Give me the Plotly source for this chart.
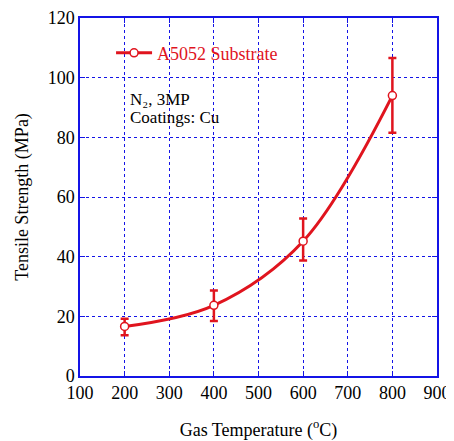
import plotly.graph_objects as go

temps = [200, 400, 600, 800]
strength = [16.6, 23.7, 45.2, 94.0]
err_up = [2.6, 5.0, 7.6, 12.6]
err_down = [2.9, 5.3, 6.5, 12.5]
x_ticks = [100, 200, 300, 400, 500, 600, 700, 800, 900]
y_ticks = [0, 20, 40, 60, 80, 100, 120]

red = "#e0141e"
blue = "#1414e6"
font = "Liberation Serif"

fig = go.Figure()
fig.add_trace(go.Scatter(
    x=temps, y=strength, mode="lines+markers", name="A5052 Substrate",
    line=dict(color=red, width=3, shape="spline", smoothing=1.0),
    marker=dict(symbol="circle", size=8, color="white", line=dict(color=red, width=1.5)),
    error_y=dict(type="data", array=err_up, arrayminus=err_down, color=red, thickness=2.5, width=4),
))

fig.add_annotation(x=0.135, y=0.772, xref="paper", yref="paper", xanchor="left", yanchor="middle",
                   text="N₂, 3MP", showarrow=False,
                   font=dict(family=font, size=17, color="black"))
fig.add_annotation(x=0.135, y=0.722, xref="paper", yref="paper", xanchor="left", yanchor="middle",
                   text="Coatings: Cu", showarrow=False,
                   font=dict(family=font, size=17, color="black"))

axis_common = dict(
    showline=True, linecolor=blue, linewidth=1.5, mirror="allticks",
    ticks="inside", ticklen=5, tickcolor=blue, tickwidth=1,
    showgrid=True, gridcolor=blue, griddash="dot", gridwidth=1,
    zeroline=False, automargin=False,
    tickfont=dict(family=font, size=18, color="black"),
)

# the page body has an 8px margin, so the figure is sized to fit the window
fig.update_layout(
    width=446, height=433,
    margin=dict(l=72, r=17, t=10, b=65),
    paper_bgcolor="white", plot_bgcolor="white",
    showlegend=True,
    legend=dict(x=0.087, y=0.902, xanchor="left", yanchor="middle",
                bgcolor="rgba(0,0,0,0)", font=dict(family=font, size=18, color=red),
                itemwidth=36),
    xaxis=dict(range=[100, 900], tickvals=x_ticks,
               title=dict(text="Gas Temperature (<sup>o</sup>C)", font=dict(family=font, size=18, color="black"), standoff=22),
               **axis_common),
    yaxis=dict(range=[0, 120], tickvals=y_ticks,
               title=dict(text="Tensile Strength (MPa)", font=dict(family=font, size=18, color="black"), standoff=14),
               **axis_common),
)

fig.write_html("out.html")
